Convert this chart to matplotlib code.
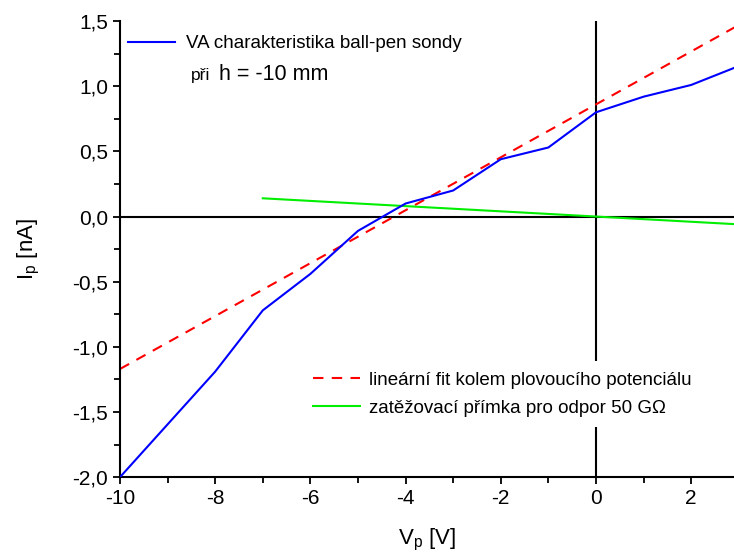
import matplotlib
matplotlib.use("Agg")
import matplotlib.pyplot as plt
from matplotlib.ticker import MultipleLocator, FuncFormatter

plt.rcParams["font.family"] = ["Liberation Sans", "DejaVu Sans"]
plt.rcParams["axes.unicode_minus"] = False

# VA characteristic of the ball-pen probe
vp = [-10, -8, -7, -6, -5, -4, -3, -2, -1, 0, 1, 2, 3]
ip = [-2.0, -1.19, -0.72, -0.44, -0.11, 0.10, 0.20, 0.44, 0.53, 0.80, 0.92, 1.01, 1.155]

# linear fit around floating potential
fit_v = [-10, 3]
fit_i = [-1.17, 1.47]

# load line for 50 GOhm
load_v = [-7, 3]
load_i = [0.14, -0.06]

fig = plt.figure(figsize=(7.34, 5.6), dpi=100)
ax = fig.add_axes([0.1635, 0.148, 0.8365, 0.8143])

ax.axhline(0, color="black", lw=1.5, zorder=1)
ax.axvline(0, color="black", lw=1.5, zorder=1)

l_fit, = ax.plot(fit_v, fit_i, color="#ff0000", lw=1.5, ls=(0, (5, 4)), zorder=2)
l_load, = ax.plot(load_v, load_i, color="#00ee00", lw=1.5, zorder=3)
l_va, = ax.plot(vp, ip, color="#0000ff", lw=1.5, zorder=4)

ax.set_xlim(-10, 2.9)
ax.set_ylim(-2.0, 1.5)
ax.xaxis.set_major_locator(MultipleLocator(2))
ax.xaxis.set_minor_locator(MultipleLocator(1))
ax.yaxis.set_major_locator(MultipleLocator(0.5))
ax.yaxis.set_minor_locator(MultipleLocator(0.25))
ax.yaxis.set_major_formatter(FuncFormatter(lambda v, p: f"{v:.1f}".replace(".", ",")))
ax.xaxis.set_major_formatter(FuncFormatter(lambda v, p: f"{v:.0f}"))

for s in ("top", "right"):
    ax.spines[s].set_visible(False)
for s in ("left", "bottom"):
    ax.spines[s].set_linewidth(1.5)
ax.tick_params(which="major", direction="out", length=5, width=1.3, labelsize=15)
ax.tick_params(which="minor", direction="out", length=4, width=1.3)

ax.set_xlabel(r"V$_\mathregular{p}$ [V]", fontsize=16, labelpad=14)
ax.set_ylabel(r"I$_\mathregular{p}$ [nA]", fontsize=16, labelpad=22)

leg1 = ax.legend([l_va], ["VA charakteristika ball-pen sondy"], loc="upper left",
                 bbox_to_anchor=(0.013, 0.969), frameon=False, fontsize=13.5,
                 borderpad=0, borderaxespad=0, handlelength=2.5, handletextpad=0.6)
ax.add_artist(leg1)
fig.text(191 / 734, 1 - 80 / 560, "při", fontsize=12.5, va="baseline")
fig.text(219 / 734, 1 - 80 / 560, "h = -10 mm", fontsize=15.5, va="baseline")

leg2 = ax.legend([l_fit, l_load],
                 ["lineární fit kolem plovoucího potenciálu",
                  "zatěžovací přímka pro odpor 50 GΩ"],
                 loc="upper left", bbox_to_anchor=(0.298, 0.2544), fontsize=13.5,
                 frameon=True, facecolor="white", edgecolor="none", framealpha=1,
                 fancybox=False, borderpad=0.55, borderaxespad=0, handlelength=2.5,
                 handletextpad=0.45, labelspacing=0.6)
leg2.set_zorder(5)

fig.savefig("out.png", dpi=100)
